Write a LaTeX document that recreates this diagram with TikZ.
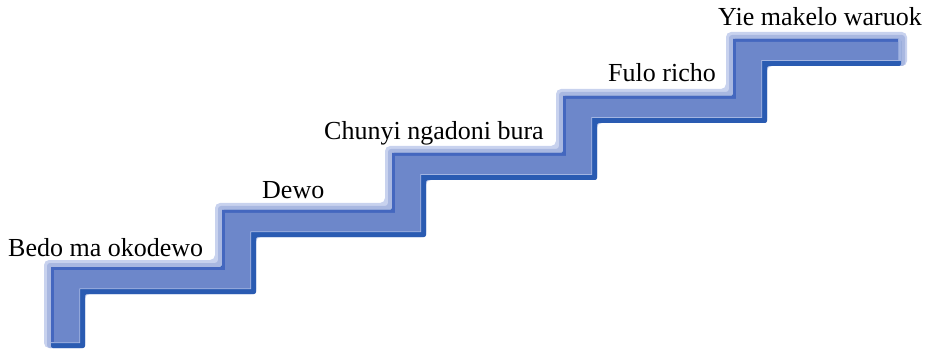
\documentclass[tikz,border=0pt]{standalone}
\usepackage{fontspec}
\setmainfont{Liberation Serif}
\usepackage{tikz}

\definecolor{glowouter}{HTML}{C8D2EE}
\definecolor{glowinner}{HTML}{A9B8E1}
\definecolor{edgeblue}{HTML}{2A5BB2}
\definecolor{stripeblue}{HTML}{A3B5E2}
\definecolor{lineblue}{HTML}{4467BF}
\definecolor{mainblue}{HTML}{6D87CA}

% stair outline: #1 inset of the upper-left edge, #2 inset of the lower-right edge, #3 inset of the right end
\newcommand{\stairs}[3]{(51+#1,348-#2) -- (51+#1,267+#1) -- (222+#1,267+#1) -- (222+#1,210+#1) -- (392+#1,210+#1) -- (392+#1,153+#1) -- (563+#1,153+#1) -- (563+#1,96+#1) -- (733+#1,96+#1) -- (733+#1,39+#1) -- (907-#3,39+#1) -- (907-#3,66-#2) -- (767-#2,66-#2) -- (767-#2,123-#2) -- (597-#2,123-#2) -- (597-#2,180-#2) -- (426-#2,180-#2) -- (426-#2,237-#2) -- (256-#2,237-#2) -- (256-#2,294-#2) -- (85-#2,294-#2) -- (85-#2,348-#2) -- cycle}

\begin{document}
\begin{tikzpicture}[x=1pt,y=-1pt,
  steplabel/.style={anchor=base west,inner sep=0pt,font=\fontsize{26}{30}\selectfont}]
\useasboundingbox (0,0) rectangle (927,350);
\fill[glowouter,rounded corners=5pt] \stairs{-7}{0}{0};
\fill[glowinner,rounded corners=3pt] \stairs{-4}{0}{2};
\fill[edgeblue,rounded corners=2pt] \stairs{0}{0}{6};
\fill[stripeblue] \stairs{0}{5}{6};
\fill[lineblue] \stairs{0}{6}{9};
\fill[mainblue] \stairs{3}{6}{9};
\node[steplabel] (bedo) at (8,256) {Bedo ma okodewo};
\node[steplabel] (dewo) at (262,198) {Dewo};
\node[steplabel] (chunyi) at (324,140) {Chunyi ngadoni bura};
\node[steplabel] (fulo) at (608,82) {Fulo richo};
\node[steplabel] (yie) at (718,26) {Yie makelo waruok};
\end{tikzpicture}
\end{document}
